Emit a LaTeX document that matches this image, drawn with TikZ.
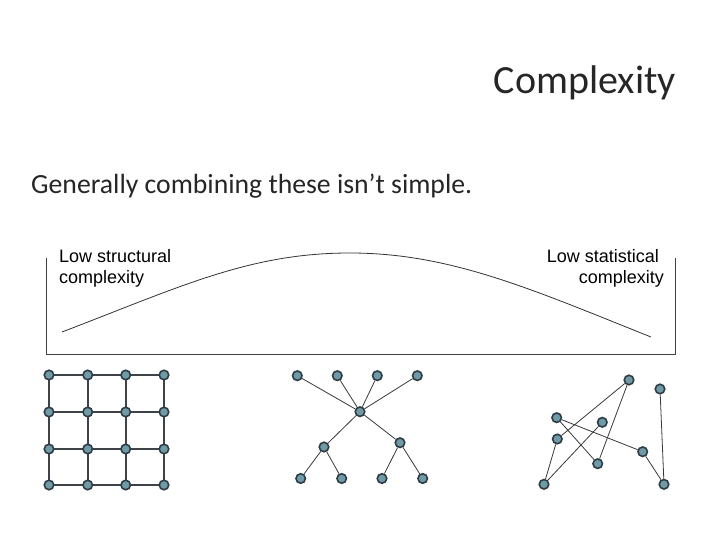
\documentclass[tikz,border=0pt]{standalone}
\usepackage{fontspec}
\setmainfont{Carlito}
\newfontfamily\arialfont{Liberation Sans}
\definecolor{nodefill}{HTML}{6F9AA6}
\definecolor{nodeedge}{HTML}{2E3D45}
\definecolor{gridedge}{HTML}{3F4347}
\definecolor{thinedge}{HTML}{3A3A3A}
\definecolor{textcol}{HTML}{262626}
\tikzset{
  vertex/.style={circle, minimum size=9.5pt, inner sep=0pt, fill=nodefill, draw=nodeedge, line width=1.6pt},
  gridline/.style={draw=gridedge, line width=2.2pt},
  thinline/.style={draw=thinedge, line width=0.8pt},
  label18/.style={font=\arialfont\fontsize{18}{21}\selectfont, inner sep=0pt, text=black},
}
\begin{document}
\begin{tikzpicture}[x=1pt,y=-1pt]
\useasboundingbox (0,0) rectangle (720,540);
\fill[white] (0,0) rectangle (720,540);
% title and subtitle
\node[anchor=base east, inner sep=0pt, text=textcol, font=\fontsize{40}{48}\selectfont] (title) at (676,94) {Complexity};
\node[anchor=base west, inner sep=0pt, text=textcol, font=\fontsize{27.7}{33}\selectfont] (sub) at (31,194) {Generally combining these isn’t simple.};
% labels
\node[label18, align=left, anchor=north west] (lowstruct) at (59,249.5) {Low structural\\complexity};
\node[label18, align=right, anchor=north east] (lowstat) at (664,249.5) {Low statistical\hspace*{5pt}\\complexity};
% bracket
\draw[draw=black!75, line width=0.8pt] (46,258) -- (46,354) -- (675.5,354) -- (675.5,258);
% curve
\coordinate (cs) at (62,332);
\coordinate (cp) at (350,253);
\coordinate (ce) at (651,337);
\draw[draw=black!80, line width=0.8pt] (cs) .. controls (182,286) and (250,253) .. (cp) .. controls (450,253) and (531,289) .. (ce);
% grid
\foreach \i/\x in {1/49,2/87.7,3/125.7,4/164}{
  \foreach \j/\y in {1/375,2/412,3/449,4/485}{
    \coordinate (g\i\j) at (\x,\y);
  }
}
\foreach \i in {1,2,3,4}{
  \draw[gridline] (g\i1) -- (g\i4);
  \draw[gridline] (g1\i) -- (g4\i);
}
\foreach \i in {1,2,3,4}{
  \foreach \j in {1,2,3,4}{
    \node[vertex] (n\i\j) at (g\i\j) {};
  }
}
% tree
\node[vertex] (t1) at (297.3,375.7) {};
\node[vertex] (t2) at (337.3,375.7) {};
\node[vertex] (t3) at (377.3,375.7) {};
\node[vertex] (t4) at (417.3,375.7) {};
\node[vertex] (tc) at (360,411.7) {};
\node[vertex] (tl) at (324,447) {};
\node[vertex] (tr) at (400,442.7) {};
\node[vertex] (l1) at (300.7,478.5) {};
\node[vertex] (l2) at (341.7,478.5) {};
\node[vertex] (l3) at (382,478.5) {};
\node[vertex] (l4) at (422.7,478.5) {};
\foreach \a/\b in {t1/tc,t2/tc,t3/tc,t4/tc,tc/tl,tc/tr,tl/l1,tl/l2,tr/l3,tr/l4}{
  \draw[thinline] (\a) -- (\b);
}
% random graph
\node[vertex] (ra) at (629,380) {};
\node[vertex] (rb) at (660,389) {};
\node[vertex] (rc) at (556.7,417.7) {};
\node[vertex] (rd) at (602.3,422.3) {};
\node[vertex] (re) at (557.3,439) {};
\node[vertex] (rf) at (642.7,451.7) {};
\node[vertex] (rg) at (597.7,463.7) {};
\node[vertex] (rh) at (544,484.3) {};
\node[vertex] (ri) at (664,484.3) {};
\foreach \a/\b in {ra/re,ra/rg,rc/rg,rc/rf,rf/ri,rb/ri,re/rh,rd/rh}{
  \draw[thinline] (\a) -- (\b);
}
\end{tikzpicture}
\end{document}
